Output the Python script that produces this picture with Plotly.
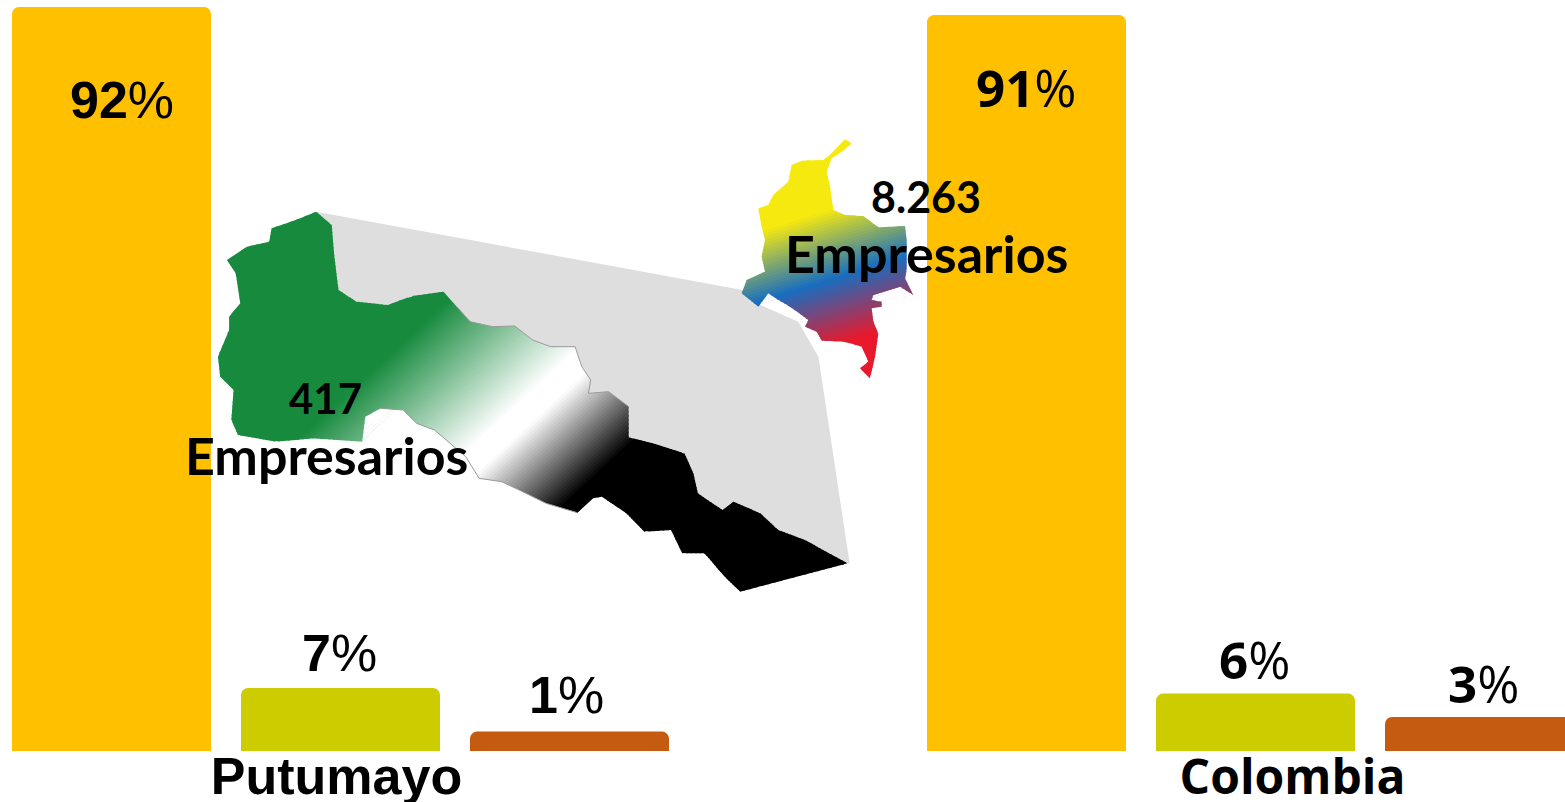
import plotly.graph_objects as go

categories = ["Putumayo", "Colombia"]
series_a = [92.0, 91.0]
series_b = [7.8, 7.1]
series_c = [2.4, 4.2]
labels_a = ["92", "91"]
labels_b = ["7", "6"]
labels_c = ["1", "3"]
shift_a = [-93, -72]
shift_b = [35, 35]
shift_c = [37, 34]
xshift_a = [10, 0]
xshift_b = [-1, -1]
xshift_c = [-3, -1]
colors = ["#FFC000", "#CCCC00", "#C55A11"]

# Decorative map outlines, traced in crop coordinates of the reference
PUT_UPPER = [(305,65),(340,105),(345,190),(355,300),(395,335),(465,345),(520,318),(590,305),(620,350),(650,395),
             (700,410),(750,408),(790,450),(830,470),(885,470),(900,530),(920,570),(915,610),(960,605),(1005,650),
             (1005,715),(1005,742),(1060,760),(1130,790),(1150,850),(1160,910),(1215,960),(1240,935),(1300,970),
             (1340,1020),(1400,1050),(1495,1120)]
PUT_LOWER = [(1255,1205),(1220,1160),(1175,1090),(1125,1090),(1100,1020),(1040,1025),(1000,970),(945,920),(925,925),
             (890,968),(820,940),(760,900),(720,875),(670,865),(640,800),(570,720),(530,700),(500,660),(450,655),
             (415,680),(408,755),(300,745),(215,755),(130,735),(115,690),(120,600),(90,560),(85,500),(110,420),
             (110,380),(135,340),(125,250),(105,210),(150,170),(200,155),(205,115),(260,90)]
GREY_EDGE = [(305,65),(1260,300),(1300,345),(1385,395),(1430,500),(1500,1120)]
COL_Z = [(345,28),(365,40),(340,62),(305,85),(290,125),(300,170),(310,240),(345,255),(400,258),(445,292),(525,288),
         (530,330),(530,420),(525,445),(550,495),(510,470),(430,495),(425,510),(455,515),(455,530),(425,535),(430,575),
         (445,610),(435,680),(420,745),(390,715),(415,695),(395,650),(345,635),(275,632),(260,605),(225,590),(235,570),
         (180,530),(145,510),(115,490),(85,530),(35,490),(50,450),(105,425),(95,380),(105,330),(95,290),(85,235),
         (115,225),(130,195),(175,155),(185,105),(215,92),(280,90),(300,75)]

def to_px(pts, ox, oy, kx, ky):
    return [(x / kx + ox, y / ky + oy) for x, y in pts]

put_upper = to_px(PUT_UPPER, 180, 190, 2.24, 3)
put_lower = to_px(PUT_LOWER, 180, 190, 2.24, 3)
grey_edge = to_px(GREY_EDGE, 180, 190, 2.24, 3)
colombia = to_px(COL_Z, 730, 130, 3, 3)

def clip(poly, n, s, keep_above):
    out = []
    sign = 1 if keep_above else -1
    m = len(poly)
    for i in range(m):
        a, b = poly[i], poly[(i + 1) % m]
        da = sign * (a[0] * n[0] + a[1] * n[1] - s)
        db = sign * (b[0] * n[0] + b[1] * n[1] - s)
        if da >= 0:
            out.append(a)
        if (da >= 0) != (db >= 0):
            t = da / (da - db)
            out.append((a[0] + t * (b[0] - a[0]), a[1] + t * (b[1] - a[1])))
    return out

def ramp(s, stops):
    if s <= stops[0][0]:
        return stops[0][1]
    for (s0, c0), (s1, c1) in zip(stops, stops[1:]):
        if s <= s1:
            t = (s - s0) / (s1 - s0)
            return tuple(round(c0[i] + t * (c1[i] - c0[i])) for i in range(3))
    return stops[-1][1]

def gradient_traces(poly, n, stops, step=3.0):
    vals = [p[0] * n[0] + p[1] * n[1] for p in poly]
    lo, hi = min(vals), max(vals)
    traces = []
    s = lo
    while s < hi:
        band = clip(clip(poly, n, s, True), n, s + step + 1.0, False)
        if len(band) >= 3:
            c = ramp(s + step / 2, stops)
            traces.append(go.Scatter(
                x=[p[0] for p in band] + [band[0][0]],
                y=[p[1] for p in band] + [band[0][1]],
                mode="lines", line=dict(width=0), fill="toself",
                fillcolor=f"rgb({c[0]},{c[1]},{c[2]})",
                xaxis="x2", yaxis="y2", hoverinfo="skip", showlegend=False))
        s += step
    return traces

fig = go.Figure()
for name, vals, color in zip(["A", "B", "C"], [series_a, series_b, series_c], colors):
    fig.add_trace(go.Bar(x=categories, y=vals, name=name, marker=dict(color=color, line=dict(width=0)),
                         hoverinfo="skip", showlegend=False))

# grey backdrop
grey = grey_edge + list(reversed(put_upper))
fig.add_trace(go.Scatter(x=[p[0] for p in grey], y=[p[1] for p in grey], mode="lines", line=dict(width=0),
                         fill="toself", fillcolor="#DEDEDE", xaxis="x2", yaxis="y2", hoverinfo="skip", showlegend=False))

put_stops = [(525, (23, 138, 62)), (650, (255, 255, 255)), (672, (255, 255, 255)), (755, (0, 0, 0))]
for t in gradient_traces(put_upper + put_lower, (0.68, 0.735), put_stops):
    fig.add_trace(t)

# thin outline round the pale middle of the department
for seg in (put_upper[8:20], put_lower[9:19]):
    fig.add_trace(go.Scatter(x=[p[0] for p in seg], y=[p[1] for p in seg], mode="lines",
                             line=dict(color="#9A9A9A", width=1), xaxis="x2", yaxis="y2",
                             hoverinfo="skip", showlegend=False))

col_stops = [(447, (246, 233, 15)), (514, (24, 110, 192)), (578, (232, 25, 44))]
for t in gradient_traces(colombia, (0.298, 0.954), col_stops):
    fig.add_trace(t)

FONT_L = "Liberation Sans"
FONT_O = "Open Sans"
annotations = []
slot = 229 / 915
for off, vals, labs, shifts, xshifts in [(-slot, series_a, labels_a, shift_a, xshift_a),
                                         (0, series_b, labels_b, shift_b, xshift_b),
                                         (slot, series_c, labels_c, shift_c, xshift_c)]:
    for ci in range(2):
        fam = FONT_L if ci == 0 else FONT_O
        size = 52 if ci == 0 else 51
        annotations.append(dict(x=ci + off, y=vals[ci], xref="x", yref="y", yshift=shifts[ci], xshift=xshifts[ci],
                                text=f"<b>{labs[ci]}</b>%", showarrow=False, yanchor="middle",
                                font=dict(family=fam, size=size, color="black")))

for txt, x, y, size in [("417", 325, 398, 42), ("Empresarios", 326.5, 455, 52),
                        ("8.263", 926, 196, 43), ("Empresarios", 926.5, 253, 52)]:
    annotations.append(dict(x=x, y=y, xref="x2", yref="y2", text=f"<b>{txt}</b>", showarrow=False, yanchor="middle",
                            font=dict(family="Lato", size=size, color="black")))

fig.update_layout(
    width=1565, height=802, margin=dict(l=0, r=0, t=0, b=0),
    paper_bgcolor="white", plot_bgcolor="rgba(0,0,0,0)",
    barmode="group", bargap=228 / 915, bargroupgap=30 / 229, barcornerradius=7,
    showlegend=False, annotations=annotations,
    xaxis=dict(domain=[0, 1], type="category", range=[-340.5 / 915, (1565 - 340.5) / 915],
               categoryorder="array", categoryarray=categories,
               tickmode="array", tickvals=[-4 / 915, 1 + 37 / 915],
               ticktext=[f'<b>{categories[0]}</b>',
                         f'<span style="font-family:{FONT_O};font-size:48px"><b>{categories[1]}</b></span>'],
               tickfont=dict(family=FONT_L, size=52, color="black"), ticks="", showline=False,
               showgrid=False, zeroline=False, automargin=False, ticklabelstandoff=-10),
    yaxis=dict(domain=[51 / 802, 1], range=[0, 751 / 8.087], visible=False, automargin=False),
    xaxis2=dict(domain=[0, 1], range=[0, 1565], visible=False, anchor="y2"),
    yaxis2=dict(domain=[0, 1], range=[802, 0], visible=False, anchor="x2"),
)
fig.write_html("out.html", config=dict(displayModeBar=False),
               default_width="1565px", default_height="802px",
               post_script="document.body.style.margin='0';document.documentElement.style.overflow='hidden';")
